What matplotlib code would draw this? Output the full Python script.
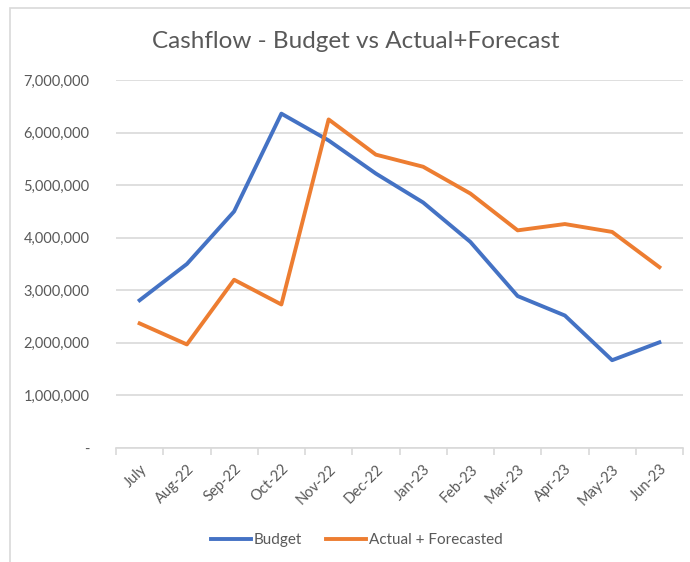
import matplotlib.pyplot as plt
from matplotlib.patches import Rectangle
import numpy as np

plt.rcParams['font.family'] = ['Lato', 'DejaVu Sans']

months = ["July", "Aug-22", "Sep-22", "Oct-22", "Nov-22", "Dec-22",
          "Jan-23", "Feb-23", "Mar-23", "Apr-23", "May-23", "Jun-23"]
budget = [2810000, 3500000, 4500000, 6360000, 5850000, 5220000,
          4670000, 3920000, 2890000, 2520000, 1670000, 2010000]
actual = [2370000, 1970000, 3200000, 2730000, 6250000, 5580000,
          5350000, 4840000, 4140000, 4260000, 4110000, 3440000]
yticks = [0, 1000000, 2000000, 3000000, 4000000, 5000000, 6000000, 7000000]

grey = "#595959"

fig = plt.figure(figsize=(6.9, 5.62), dpi=100)
# chart frame (cut off on right/bottom like the screenshot)
fig.patches.append(Rectangle((10 / 690, -0.1), 1.2, 1 - 8 / 562 + 0.1,
                             transform=fig.transFigure, fill=False,
                             edgecolor="#D9D9D9", linewidth=1.2))

ax = fig.add_axes([116 / 690, 1 - 448 / 562, (683 - 116) / 690, (448 - 80) / 562])

x = np.arange(len(months))
ax.plot(x, budget, color="#4472C4", linewidth=2.8, label="Budget",
        solid_joinstyle="round")
ax.plot(x, actual, color="#ED7D31", linewidth=2.8, label="Actual + Forecasted",
        solid_joinstyle="round")

ax.set_xlim(-0.5, len(months) - 0.5)
ax.set_ylim(0, 7000000)
ax.set_yticks(yticks)
ax.set_yticklabels(["-" if v == 0 else f"{v:,}" for v in yticks])
ax.yaxis.grid(True, color="#D9D9D9", linewidth=1.2)
ax.set_axisbelow(True)

ax.set_xticks(x)
ax.set_xticklabels(months, rotation=45, ha="right", rotation_mode="anchor")
ax.set_xticks(np.arange(-0.5, len(months)), minor=True)
ax.tick_params(axis="x", which="major", length=0, pad=10, labelsize=10.5, labelcolor=grey)
ax.tick_params(axis="x", which="minor", length=5, color="#D9D9D9", width=1.2)
ax.tick_params(axis="y", length=0, pad=19, labelsize=10.5, labelcolor=grey)

for s in ["top", "right", "left"]:
    ax.spines[s].set_visible(False)
ax.spines["bottom"].set_color("#D9D9D9")
ax.spines["bottom"].set_linewidth(1.2)

fig.text(356 / 690, 1 - 42 / 562, "Cashflow - Budget vs Actual+Forecast",
         ha="center", va="center", fontsize=17.5, color=grey)

fig.legend(loc="center", bbox_to_anchor=(357 / 690, 1 - 540 / 562), ncol=2,
           frameon=False, fontsize=11, labelcolor=grey, handlelength=2.6,
           handletextpad=0.2, columnspacing=1.6)

fig.savefig("out.png", dpi=100)
